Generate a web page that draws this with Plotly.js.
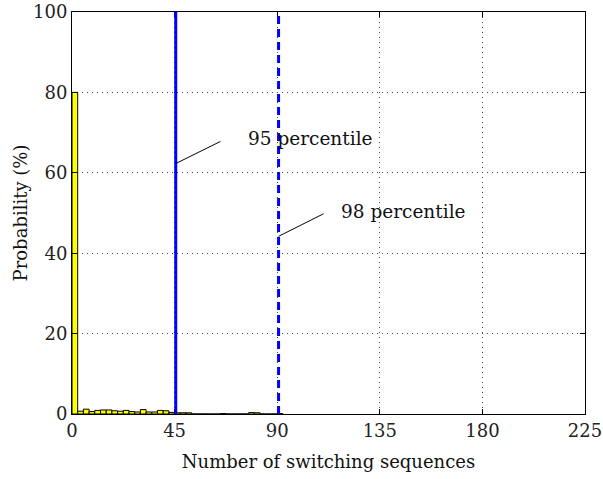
<!DOCTYPE html>
<html>
<head>
<meta charset="utf-8">
<script src="https://cdn.plot.ly/plotly-3.0.1.min.js"></script>
<style>html,body{margin:0;padding:0;background:#fff;}#chart{width:603px;height:479px;}</style>
</head>
<body>
<div id="chart"></div>
<script>
// Histogram bins of width 2.5 starting at 0
const binWidth = 2.5;
const probabilities = [
  80, 0.7, 1.2, 0.6, 0.9, 1.0, 1.0, 0.8, 0.7, 0.9,
  0.6, 0.5, 1.1, 0.5, 0.5, 0.9, 0.8, 0.4, 0.3, 0.3,
  0.3, 0, 0, 0, 0, 0, 0.1, 0, 0, 0,
  0, 0.35, 0.3, 0, 0, 0, 0.1
];
const binCenters = probabilities.map((_, i) => i * binWidth + binWidth / 2);

const percentileValues = [45.5, 90.6];
const percentileLabels = ['95 percentile', '98 percentile'];
// leader line: from point on percentile line to label end
const leaderStartY = [62.3, 44.2];
const leaderEndX = [65.1, 110.3];
const leaderEndY = [67.8, 49.8];
const labelX = [76.3, 117.3];
const labelY = [68.6, 50.4];

const xTicks = [0, 45, 90, 135, 180, 225];
const yTicks = [0, 20, 40, 60, 80, 100];

const serif = '"DejaVu Serif", serif';

const trace = {
  type: 'bar',
  x: binCenters,
  y: probabilities,
  width: binWidth,
  marker: {color: '#ffff00', line: {color: '#000000', width: 1}},
  hoverinfo: 'skip'
};

const shapes = [];
percentileValues.forEach((v, i) => {
  shapes.push({type: 'line', xref: 'x', yref: 'y', x0: v, x1: v, y0: 0, y1: 100,
    line: {color: '#0000ff', width: 3, dash: i === 0 ? 'solid' : '8px,5px'}});
  shapes.push({type: 'line', xref: 'x', yref: 'y', x0: v, x1: leaderEndX[i], y0: leaderStartY[i], y1: leaderEndY[i],
    line: {color: '#000000', width: 1}});
});

const annotations = percentileLabels.map((t, i) => ({
  x: labelX[i], y: labelY[i], xref: 'x', yref: 'y', text: t, showarrow: false,
  xanchor: 'left', yanchor: 'middle', font: {family: serif, size: 18.5, color: '#111'}
}));

const axisCommon = {
  showline: true, linecolor: '#000', linewidth: 1, mirror: 'ticks',
  ticks: 'inside', ticklen: 5, tickcolor: '#000',
  showgrid: true, gridcolor: '#444', gridwidth: 1, griddash: '1px,4px',
  zeroline: false, ticklabeloverflow: 'allow',
  tickfont: {family: serif, size: 18, color: '#222'}
};

const layout = {
  width: 603, height: 479,
  margin: {l: 72, r: 18, t: 12, b: 65},
  paper_bgcolor: '#fff', plot_bgcolor: '#fff',
  showlegend: false,
  bargap: 0,
  xaxis: Object.assign({}, axisCommon, {
    range: [0, 225], tickvals: xTicks, ticktext: xTicks.map(String),
    title: {text: 'Number of switching sequences', font: {family: serif, size: 18, color: '#111'}, standoff: 15}
  }),
  yaxis: Object.assign({}, axisCommon, {
    range: [0, 100], tickvals: yTicks, ticktext: yTicks.map(String),
    title: {text: 'Probability (%)', font: {family: serif, size: 18, color: '#111'}, standoff: 0}
  }),
  shapes: shapes,
  annotations: annotations
};

Plotly.newPlot('chart', [trace], layout, {displayModeBar: false, staticPlot: true});
</script>
</body>
</html>
